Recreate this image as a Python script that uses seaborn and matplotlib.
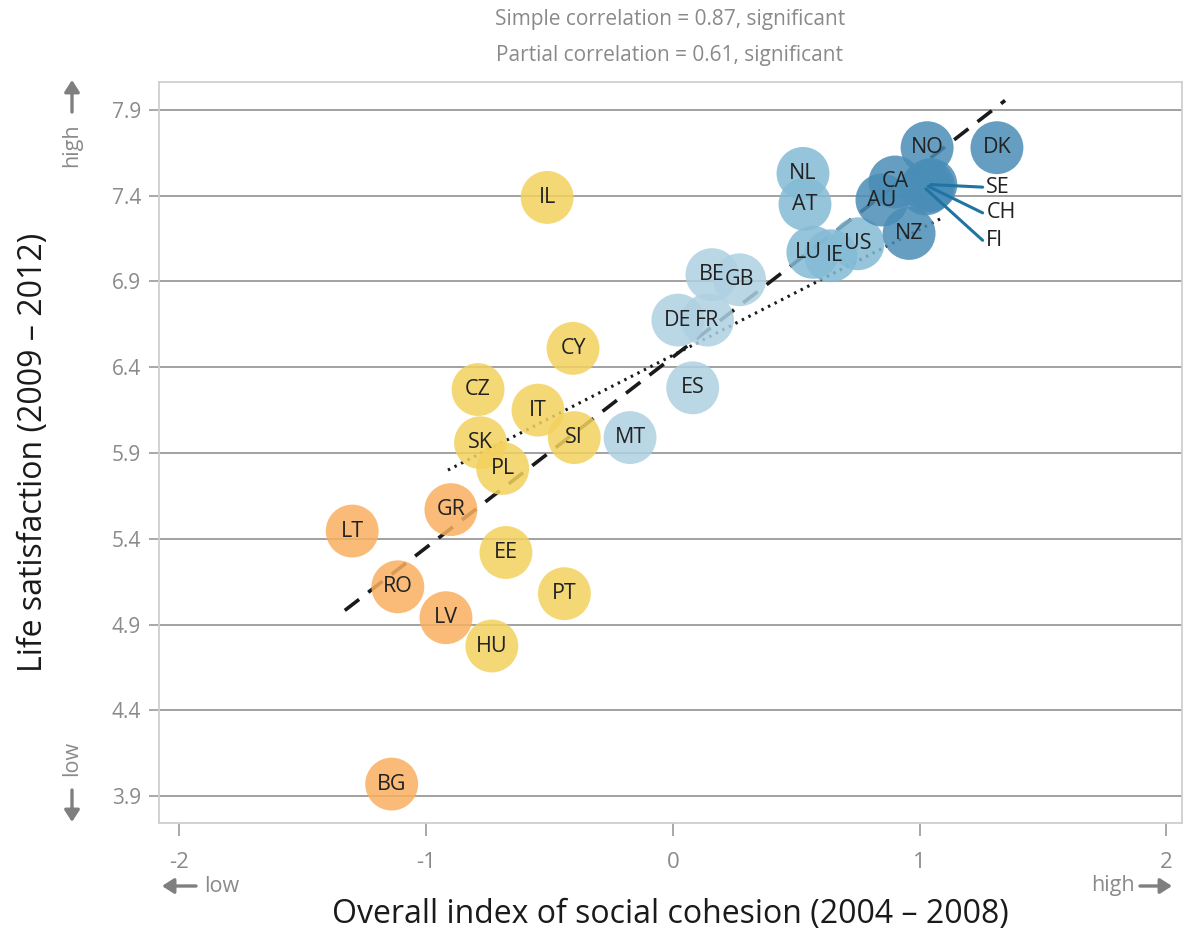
import matplotlib
matplotlib.use("Agg")
import matplotlib.pyplot as plt
import seaborn as sns
import pandas as pd
import numpy as np

# Country codes, social cohesion index (x) and life satisfaction (y)
countries = ["IL", "CY", "CZ", "IT", "SK", "SI", "PL", "EE", "PT", "HU",
             "GR", "LT", "RO", "LV", "BG",
             "MT", "ES", "DE", "FR", "BE", "GB",
             "NL", "AT", "LU", "IE", "US",
             "CA", "AU", "NZ", "NO", "DK", "SE", "CH", "FI"]
cohesion = [-0.51, -0.405, -0.79, -0.547, -0.78, -0.40, -0.69, -0.677, -0.44, -0.734,
            -0.90, -1.30, -1.115, -0.92, -1.14,
            -0.174, 0.08, 0.02, 0.14, 0.158, 0.27,
            0.527, 0.535, 0.567, 0.64, 0.75,
            0.90, 0.847, 0.957, 1.03, 1.313, 1.045, 1.035, 1.025]
satisfaction = [7.39, 6.51, 6.27, 6.15, 5.96, 5.99, 5.81, 5.32, 5.08, 4.775,
                5.57, 5.445, 5.12, 4.94, 3.97,
                5.99, 6.28, 6.675, 6.675, 6.94, 6.91,
                7.53, 7.35, 7.07, 7.05, 7.12,
                7.48, 7.375, 7.18, 7.68, 7.68, 7.465, 7.455, 7.44]
group = (["q2"] * 10 + ["q1"] * 5 + ["q3"] * 6 + ["q4"] * 5 + ["q5"] * 8)

palette = {"q1": "#F9B05F", "q2": "#F4D25E", "q3": "#AED0E2",
           "q4": "#84BBD5", "q5": "#4A8DB6"}

# Regression lines: (slope, intercept, x start, x end)
simple_fit = [1.111, 6.46, -1.33, 1.346]
partial_fit = [0.734, 6.47, -0.912, 1.09]

# Labels placed beside the crowded cluster, with their y positions
side_labels = ["SE", "CH", "FI"]
side_label_y = [7.45, 7.30, 7.14]

# small horizontal nudges for labels of touching circles
label_nudge = {"LU": -0.02, "IE": 0.015}

x_ticks = [-2, -1, 0, 1, 2]
y_ticks = [3.9, 4.4, 4.9, 5.4, 5.9, 6.4, 6.9, 7.4, 7.9]

sns.set_style("white")
plt.rcParams["font.family"] = ["Open Sans", "DejaVu Sans"]

df = pd.DataFrame({"country": countries, "x": cohesion, "y": satisfaction,
                   "group": group})

fig = plt.figure(figsize=(11.84, 9.36), dpi=100)
ax = fig.add_axes([0.1343, 0.1207, 0.8640, 0.7917])

ax.set_xlim(-2.083, 2.063)
ax.set_ylim(3.743, 8.063)

# horizontal grid
for yv in y_ticks:
    ax.axhline(yv, color="#9a9a9a", lw=1.3, zorder=0)

# fitted lines
s, b, x0, x1 = simple_fit
ax.plot([x0, x1], [s * x0 + b, s * x1 + b], color="#1a1a1a", lw=2.6,
        dashes=(5, 3.2), zorder=1)
s, b, x0, x1 = partial_fit
ax.plot([x0, x1], [s * x0 + b, s * x1 + b], color="#1a1a1a", lw=2.2,
        linestyle=(0, (0.8, 1.6)), zorder=1)

sns.scatterplot(data=df, x="x", y="y", hue="group", palette=palette, s=1450,
                alpha=0.85, edgecolor="none", legend=False, ax=ax, zorder=2)
ax.set_xlabel("")
ax.set_ylabel("")

# country labels
for c, xv, yv in zip(countries, cohesion, satisfaction):
    if c in side_labels:
        continue
    ax.text(xv + label_nudge.get(c, 0.0), yv, c, ha="center", va="center",
            fontsize=15.5, color="#222222", zorder=4)

for c, ly in zip(side_labels, side_label_y):
    i = countries.index(c)
    xv, yv = cohesion[i], satisfaction[i]
    ax.plot([xv, 1.255], [yv, ly], color="#1f74a3", lw=2.2, zorder=3)
    ax.text(1.27, ly, c, ha="left", va="center", fontsize=15.5,
            color="#222222", zorder=4)

ax.set_xticks(x_ticks)
ax.set_xticklabels([str(v) for v in x_ticks])
ax.set_yticks(y_ticks)
ax.set_yticklabels([f"{v:.1f}" for v in y_ticks])
ax.tick_params(axis="y", length=7, width=1.2, color="#9a9a9a", pad=6,
               labelsize=15, labelcolor="#8a8a8a", direction="out", left=True)
ax.tick_params(axis="x", length=9, width=1.2, color="#9a9a9a", pad=12,
               labelsize=16, labelcolor="#8a8a8a", direction="out", bottom=True)

for sp in ax.spines.values():
    sp.set_color("#cfcfcf")
    sp.set_linewidth(1.3)
    sp.set_visible(True)

W, H = 1184, 936
def fpos(px, py):
    return (px / W, 1 - py / H)

# axis titles
fig.text(*fpos(670, 915), "Overall index of social cohesion (2004 – 2008)",
         ha="center", va="center", fontsize=23, color="#1a1a1a")
fig.text(*fpos(34, 452), "Life satisfaction (2009 – 2012)", rotation=90,
         ha="center", va="center", fontsize=23, color="#1a1a1a")

# correlation notes above the plot
fig.text(*fpos(670, 19), "Simple correlation = 0.87, significant",
         ha="center", va="center", fontsize=15, color="#8a8a8a")
fig.text(*fpos(670, 55), "Partial correlation = 0.61, significant",
         ha="center", va="center", fontsize=15, color="#8a8a8a")

# direction hints
arrow_kw = dict(arrowstyle="-|>,head_length=0.7,head_width=0.45",
                color="#7f7f7f", lw=2.4, shrinkA=0, shrinkB=0)
hint_col = "#8a8a8a"

# y axis: high (top) and low (bottom)
fig.text(*fpos(72, 145), "high", rotation=90, ha="center", va="center",
         fontsize=15.5, color=hint_col)
ax.annotate("", xy=fpos(72, 80), xytext=fpos(72, 112), xycoords="figure fraction",
            textcoords="figure fraction", arrowprops=arrow_kw)
fig.text(*fpos(72, 758), "low", rotation=90, ha="center", va="center",
         fontsize=15.5, color=hint_col)
ax.annotate("", xy=fpos(72, 822), xytext=fpos(72, 790), xycoords="figure fraction",
            textcoords="figure fraction", arrowprops=arrow_kw)

# x axis: low (left) and high (right)
fig.text(*fpos(222, 886), "low", ha="center", va="center",
         fontsize=15.5, color=hint_col)
ax.annotate("", xy=fpos(162, 886), xytext=fpos(196, 886), xycoords="figure fraction",
            textcoords="figure fraction", arrowprops=arrow_kw)
fig.text(*fpos(1113, 886), "high", ha="center", va="center",
         fontsize=15.5, color=hint_col)
ax.annotate("", xy=fpos(1172, 886), xytext=fpos(1140, 886), xycoords="figure fraction",
            textcoords="figure fraction", arrowprops=arrow_kw)

fig.savefig("out.png", dpi=100)
